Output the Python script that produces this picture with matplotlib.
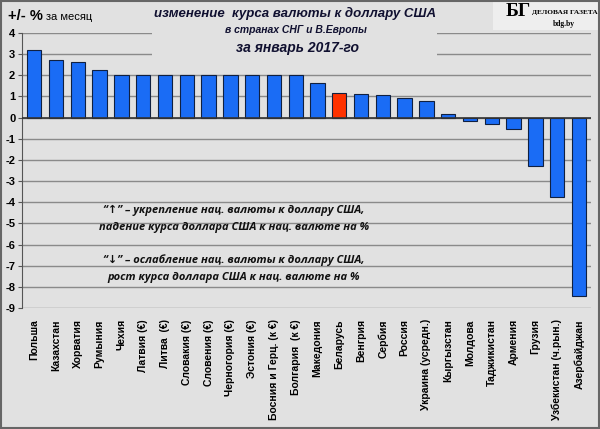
import matplotlib
matplotlib.use('Agg')
import matplotlib.pyplot as plt
from matplotlib.patches import Rectangle
import numpy as np

plt.rcParams['axes.unicode_minus'] = False
plt.rcParams['font.family'] = ['Liberation Sans', 'DejaVu Sans']

countries = ['Польша', 'Казахстан', 'Хорватия', 'Румыния', 'Чехия', 'Латвия (€)',
             'Литва  (€)', 'Словакия (€)', 'Словения (€)', 'Черногория (€)', 'Эстония (€)',
             'Босния и Герц. (к €)', 'Болгария  (к €)', 'Македония', 'Беларусь', 'Венгрия',
             'Сербия', 'Россия', 'Украина (усредн.)', 'Кыргызстан', 'Молдова',
             'Таджикистан', 'Армения', 'Грузия', 'Узбекистан (ч.рын.)', 'Азербайджан']
change = [3.21, 2.73, 2.61, 2.25, 2.03, 2.0, 2.0, 2.0, 2.0, 2.0, 2.0, 2.0, 2.0, 1.66,
          1.17, 1.1, 1.06, 0.92, 0.81, 0.18, -0.17, -0.31, -0.53, -2.3, -3.73, -8.45]
highlight = 'Беларусь'

bg = '#e1e1e1'
blue = '#1a6cf5'
red = '#ff3200'

fig = plt.figure(figsize=(6, 4.29), dpi=100, facecolor=bg)
ax = fig.add_axes([0.037, 0.282, 0.948, 0.641])
ax.set_facecolor(bg)

x = np.arange(len(countries))
colors = [red if c == highlight else blue for c in countries]
ax.bar(x, change, width=0.66, color=colors, edgecolor='#102040', linewidth=0.8, zorder=3)

ax.set_ylim(-9, 4)
ax.set_xlim(-0.55, len(countries) - 0.45)
yt = list(range(-9, 5))
ax.set_yticks(yt)
ax.set_yticklabels([str(v) for v in yt], fontsize=8, fontweight='bold')
ax.yaxis.grid(True, color='#8a8a8a', linewidth=1.0, zorder=0)
ax.axhline(0, color='#333333', linewidth=1.2, zorder=4)
for s in ['top', 'right', 'bottom']:
    ax.spines[s].set_visible(False)
ax.spines['left'].set_color('#555555')
ax.tick_params(axis='y', length=3, color='#555555', pad=2)
ax.set_xticks(x)
ax.set_xticklabels(countries, rotation=90, fontsize=7.5, fontweight='bold',
                   va='top', ha='center')
ax.tick_params(axis='x', length=0, pad=8)

# box hiding gridlines behind the title
fig.add_artist(Rectangle((0.253, 0.84), 0.476, 0.16, transform=fig.transFigure,
                         facecolor=bg, edgecolor='none', zorder=1))
tkw = dict(ha='center', va='center', style='italic', fontweight='bold',
           color='#101030', zorder=2)
fig.text(0.492, 0.968, 'изменение  курса валюты к доллару США', fontsize=9.5, **tkw)
fig.text(0.494, 0.930, 'в странах СНГ и В.Европы', fontsize=7.5, **tkw)
fig.text(0.495, 0.889, 'за январь 2017-го', fontsize=10, **tkw)

fig.text(0.013, 0.963, '+/- %', fontsize=10.5, fontweight='bold',
         va='center', ha='left', zorder=2)
fig.text(0.077, 0.961, 'за месяц', fontsize=8, va='center', ha='left', zorder=2)

# logo
fig.add_artist(Rectangle((0.822, 0.93), 0.178, 0.07, transform=fig.transFigure,
                         facecolor='#eeeeee', edgecolor='none', zorder=1))
fig.text(0.863, 0.973, 'БГ', fontsize=14, fontweight='bold', family='Liberation Serif',
         va='center', ha='center', zorder=2)
fig.text(0.887, 0.972, 'ДЕЛОВАЯ ГАЗЕТА', fontsize=5.3, fontweight='bold',
         family='Liberation Serif', va='center', ha='left', zorder=2)
fig.add_artist(Rectangle((0.887, 0.957), 0.105, 0.002, transform=fig.transFigure,
                         facecolor='black', edgecolor='none', zorder=2))
fig.text(0.94, 0.943, 'bdg.by', fontsize=5.5, fontweight='bold', family='Liberation Serif',
         va='center', ha='center', zorder=2)

nkw = dict(ha='center', va='center', style='italic', fontweight='bold', fontsize=8,
           family=['Open Sans', 'DejaVu Sans'], color='#111111', zorder=5)
fig.text(0.39, 0.510, '“↑” – укрепление нац. валюты к доллару США,', **nkw)
fig.text(0.39, 0.469, 'падение курса доллара США к нац. валюте на %', **nkw)
fig.text(0.39, 0.394, '“↓” – ослабление нац. валюты к доллару США,', **nkw)
fig.text(0.39, 0.354, 'рост курса доллара США к нац. валюте на %', **nkw)

fig.add_artist(Rectangle((0.002, 0.002), 0.996, 0.996, transform=fig.transFigure,
                         facecolor='none', edgecolor='#666666', linewidth=1.5, zorder=6))

fig.savefig('out.png', dpi=100, facecolor=bg)
